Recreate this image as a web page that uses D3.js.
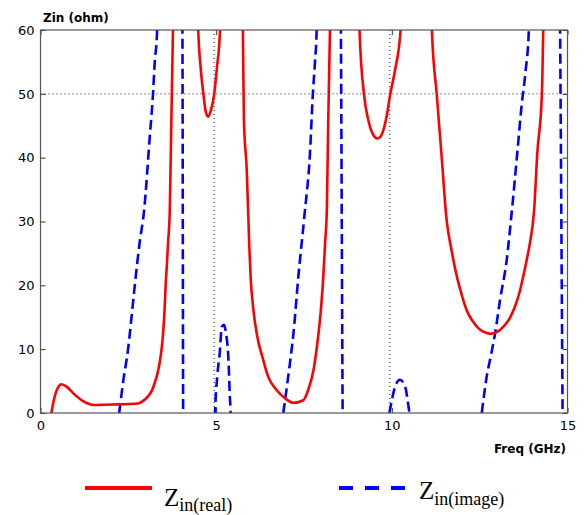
<!DOCTYPE html>
<html>
<head>
<meta charset="utf-8">
<script src="https://cdn.jsdelivr.net/npm/d3@7"></script>
<style>
  body { margin: 0; background: #fff; }
  .tick text { font-family: "DejaVu Sans", sans-serif; font-size: 13px; fill: #000; }
  .tick line { stroke: #333; }
  .axis .domain { display: none; }
</style>
</head>
<body>
<div id="chart"></div>
<script>
// Input impedance vs frequency
// null splits the curve where it runs off the top / bottom of the plot
const realFreq = [0.31, 0.4, 0.5, 0.59, 0.75, 0.95, 1.2, 1.54, 1.8, 2.2, 2.5, 2.78, 2.92, 3.06, 3.17, 3.25, 3.33, 3.39, 3.45, 3.49, 3.53, 3.56, 3.6, 3.63, 3.68, 3.72, 3.77, 3.8, null,
  4.45, 4.49, 4.56, 4.64, 4.7, 4.77, 4.85, 4.94, 5.02, 5.11, 5.14, null,
  5.73, 5.76, 5.79, 5.87, 5.94, 5.98, 6.06, 6.17, 6.34, 6.48, 6.72, 6.96, 7.2, 7.48, 7.62, 7.77, 7.88, 7.98, 8.05, 8.1, 8.15, 8.19, 8.24, 8.27, null,
  9.05, 9.08, 9.21, 9.33, 9.45, 9.59, 9.7, 9.85, 9.95, 10.09, 10.25, 10.28, null,
  11.1, 11.14, 11.28, 11.42, 11.56, 11.7, 11.85, 12.0, 12.13, 12.3, 12.46, 12.62, 12.8, 13.0, 13.17, 13.35, 13.5, 13.63, 13.74, 13.85, 13.93, 14.05, 14.14, 14.27, 14.31, 14.34];
const realZ = [0, 2.5, 4.0, 4.5, 4.1, 3.0, 1.9, 1.25, 1.3, 1.35, 1.4, 1.5, 1.9, 2.6, 3.5, 4.7, 6.2, 7.8, 10.2, 12.5, 16, 19.8, 23.5, 26.6, 31.8, 44.3, 60, 68, null,
  68, 60, 54, 49.8, 47.3, 46.4, 47.4, 49.8, 54, 60, 68, null,
  68, 60, 45.9, 38.1, 26.6, 21.4, 16.1, 12, 8.3, 5.7, 3.6, 2.3, 1.6, 2.0, 3.6, 6.7, 10.9, 16.1, 21.4, 26.6, 31.8, 45.9, 60, 68, null,
  68, 60, 49.8, 45.9, 43.8, 43.0, 43.5, 46.4, 49.8, 53.7, 60, 68, null,
  68, 60, 49.8, 40, 30.2, 25.5, 21.4, 18.3, 16.1, 14.4, 13.3, 12.7, 12.4, 12.7, 13.5, 14.8, 16.6, 18.8, 21.4, 24.3, 26.6, 31.8, 40.7, 49.8, 60, 68];

const imagFreq = [2.24, 2.35, 2.49, 2.6, 2.68, 2.82, 2.95, 3.11, 3.2, 3.25, 3.32, 3.34, null,
  4.03, 4.04, 4.06, 4.07, null,
  4.96, 4.97, 5.03, 5.1, 5.16, 5.22, 5.28, 5.35, 5.39, 5.41, 5.42, null,
  6.91, 7.05, 7.2, 7.34, 7.51, 7.67, 7.75, 7.81, 7.86, 7.88, null,
  8.54, 8.55, 8.6, 8.61, null,
  9.93, 10.0, 10.09, 10.23, 10.38, 10.45, 10.5, null,
  12.56, 12.7, 12.82, 12.94, 13.08, 13.27, 13.41, 13.57, 13.7, 13.81, 13.9, 13.92, null,
  14.78, 14.79, 14.86, 14.87];
const imagZ = [0, 4.8, 9.9, 15.5, 19.8, 26.6, 31.8, 43.3, 49.8, 54.8, 60, 68, null,
  68, 60, 0, -8, null,
  -3, 0, 5.7, 9.3, 13.5, 13.8, 12.5, 8.3, 2.5, 0, -3, null,
  0, 5.7, 12.5, 21.4, 30.8, 40.7, 49.8, 54.8, 60, 68, null,
  68, 60, 0, -8, null,
  0, 2.0, 4.1, 5.2, 4.1, 2.0, 0, null,
  0, 5.7, 9, 12.5, 17.7, 24, 31.3, 40.7, 48.5, 53.7, 60, 68, null,
  68, 60, 0, -8];

const xTicks = [0, 5, 10, 15];
const yTicks = [0, 10, 20, 30, 40, 50, 60];
const gridX = [5, 10];
const gridY = [50];

const width = 586, height = 515;
const plotLeft = 40.5, plotRight = 567.5, plotTop = 30, plotBottom = 413;

const svg = d3.select('#chart').append('svg')
  .attr('width', width)
  .attr('height', height);

const x = d3.scaleLinear().domain([0, 15]).range([plotLeft, plotRight]);
const y = d3.scaleLinear().domain([0, 60]).range([plotBottom, plotTop]);

svg.append('clipPath').attr('id', 'plot-clip')
  .append('rect')
  .attr('x', plotLeft).attr('y', plotTop)
  .attr('width', plotRight - plotLeft).attr('height', plotBottom - plotTop);

// Dotted grid lines
svg.selectAll('.gx').data(gridX).enter().append('line')
  .attr('x1', d => x(d) - 2).attr('x2', d => x(d) - 2)
  .attr('y1', plotTop).attr('y2', plotBottom)
  .attr('stroke', '#222').attr('stroke-width', 1).attr('stroke-dasharray', '1,3');
svg.selectAll('.gy').data(gridY).enter().append('line')
  .attr('x1', plotLeft).attr('x2', plotRight)
  .attr('y1', d => y(d)).attr('y2', d => y(d))
  .attr('stroke', '#222').attr('stroke-width', 1).attr('stroke-dasharray', '1,3');

// Axes with inward ticks
svg.append('g').attr('class', 'axis')
  .attr('transform', `translate(${plotLeft},0)`)
  .call(d3.axisLeft(y).tickValues(yTicks).tickSizeInner(-5).tickSizeOuter(0).tickPadding(6));
svg.append('g').attr('class', 'axis')
  .attr('transform', `translate(${plotRight},0)`)
  .call(d3.axisRight(y).tickValues(yTicks).tickSizeInner(-5).tickSizeOuter(0).tickFormat(''));
svg.append('g').attr('class', 'axis')
  .attr('transform', `translate(0,${plotBottom})`)
  .call(d3.axisBottom(x).tickValues(xTicks).tickSizeInner(-5).tickSizeOuter(0).tickPadding(8));
svg.append('g').attr('class', 'axis')
  .attr('transform', `translate(0,${plotTop})`)
  .call(d3.axisTop(x).tickValues(xTicks).tickSizeInner(-5).tickSizeOuter(0).tickFormat(''));

// Curves
const line = d3.line()
  .defined(d => d[0] != null && d[1] != null)
  .curve(d3.curveMonotoneX)
  .x(d => x(d[0]))
  .y(d => y(d[1]));

const plot = svg.append('g').attr('clip-path', 'url(#plot-clip)');

plot.append('path')
  .datum(imagFreq.map((f, i) => [f, imagZ[i]]))
  .attr('fill', 'none')
  .attr('stroke', '#0000ff')
  .attr('stroke-width', 2.6)
  .attr('stroke-dasharray', '10,5')
  .attr('d', line);

plot.append('path')
  .datum(realFreq.map((f, i) => [f, realZ[i]]))
  .attr('fill', 'none')
  .attr('stroke', '#ff0000')
  .attr('stroke-width', 2.6)
  .attr('stroke-linejoin', 'round')
  .attr('d', line);

// Plot box
svg.append('rect')
  .attr('x', plotLeft).attr('y', plotTop)
  .attr('width', plotRight - plotLeft).attr('height', plotBottom - plotTop)
  .attr('fill', 'none').attr('stroke', '#555').attr('stroke-width', 1.2);

// Axis titles
svg.append('text')
  .attr('x', 43).attr('y', 22)
  .attr('font-family', '"DejaVu Sans", sans-serif')
  .attr('font-size', '12px').attr('font-weight', 'bold')
  .text('Zin (ohm)');
svg.append('text')
  .attr('x', 566).attr('y', 453)
  .attr('text-anchor', 'end')
  .attr('font-family', '"DejaVu Sans", sans-serif')
  .attr('font-size', '12px').attr('font-weight', 'bold')
  .text('Freq (GHz)');

// Legend
const legend = svg.append('g');
legend.append('line')
  .attr('x1', 85).attr('x2', 152).attr('y1', 488).attr('y2', 488)
  .attr('stroke', '#ff0000').attr('stroke-width', 4);
const t1 = legend.append('text')
  .attr('x', 164).attr('y', 506)
  .attr('font-family', '"Liberation Serif", "Times New Roman", serif')
  .attr('font-size', '25px');
t1.append('tspan').text('Z');
t1.append('tspan').attr('font-size', '18px').attr('dy', 5).text('in(real)');

legend.append('line')
  .attr('x1', 339).attr('x2', 405).attr('y1', 488).attr('y2', 488)
  .attr('stroke', '#0000ff').attr('stroke-width', 4)
  .attr('stroke-dasharray', '14,12');
const t2 = legend.append('text')
  .attr('x', 419).attr('y', 499)
  .attr('font-family', '"Liberation Serif", "Times New Roman", serif')
  .attr('font-size', '25px');
t2.append('tspan').text('Z');
t2.append('tspan').attr('font-size', '18px').attr('dy', 6).text('in(image)');
</script>
</body>
</html>
